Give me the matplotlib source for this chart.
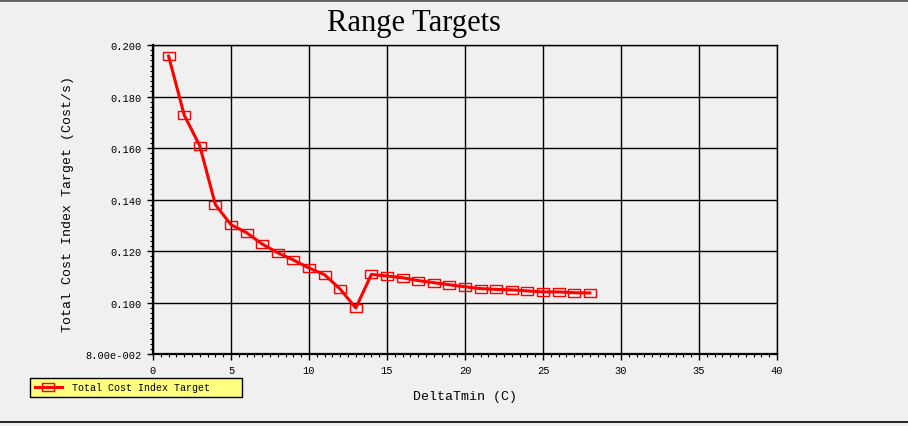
import numpy as np
import matplotlib.pyplot as plt
from matplotlib.lines import Line2D
from matplotlib.ticker import MultipleLocator, FixedLocator, FuncFormatter

# data
delta_tmin = [1, 2, 3, 4, 5, 6, 7, 8, 9, 10, 11, 12, 13, 14,
              15, 16, 17, 18, 19, 20, 21, 22, 23, 24, 25, 26, 27, 28]
cost_index = [0.1957, 0.1728, 0.1608, 0.1380, 0.1302, 0.1271, 0.1227, 0.1193,
              0.1165, 0.1134, 0.1108, 0.1052, 0.0979, 0.1109, 0.1103, 0.1096,
              0.1085, 0.1077, 0.1069, 0.1061, 0.1054, 0.1051, 0.1049, 0.1045,
              0.1041, 0.1041, 0.1038, 0.1037]
y_ticks = [0.08, 0.10, 0.12, 0.14, 0.16, 0.18, 0.20]
x_ticks = [0, 5, 10, 15, 20, 25, 30, 35, 40]

bg = '#f0f0f0'
mono = 'Liberation Mono'

W, H = 908, 427
fig = plt.figure(figsize=(W / 100, H / 100), dpi=100, facecolor=bg)
# axes box in pixels: left 153, right 777, top 46, bottom 355
ax = fig.add_axes([153 / W, 1 - 355 / H, (777 - 153) / W, (355 - 46) / H])
ax.set_facecolor(bg)

box = [(-1, -0.7), (1, -0.7), (1, 0.7), (-1, 0.7), (-1, -0.7)]
ax.plot(delta_tmin, cost_index, color='red', lw=2.2, marker=box,
        markersize=8, markerfacecolor='none', markeredgecolor='red',
        markeredgewidth=1.0, label='Total Cost Index Target', zorder=3)

ax.set_xlim(0, 40)
ax.set_ylim(0.08, 0.20)
ax.xaxis.set_major_locator(FixedLocator(x_ticks))
ax.xaxis.set_minor_locator(MultipleLocator(0.5))
ax.yaxis.set_major_locator(FixedLocator(y_ticks))
ax.yaxis.set_minor_locator(MultipleLocator(0.002))


def yfmt(v, pos):
    if abs(v - 0.08) < 1e-9:
        return '8.00e-002'
    return '%.3f' % v


ax.yaxis.set_major_formatter(FuncFormatter(yfmt))
ax.grid(True, which='major', color='black', lw=1.0)

for s in ['top', 'right']:
    ax.spines[s].set_linewidth(1.0)
for s in ['left', 'bottom']:
    ax.spines[s].set_linewidth(1.6)

ax.tick_params(which='major', direction='out', length=4, width=1,
               labelsize=7.5, pad=4)
ax.tick_params(which='minor', direction='out', length=2.5, width=0.8)
ax.tick_params(top=False, right=False, which='both')
for lab in ax.get_xticklabels() + ax.get_yticklabels():
    lab.set_family(mono)

ax.set_xlabel('DeltaTmin (C)', family=mono, fontsize=9.5)
ax.xaxis.set_label_coords(0.5, -0.115)
ax.set_ylabel('Total Cost Index Target (Cost/s)', family=mono, fontsize=9.5)
ax.yaxis.label.set_va('center')
ax.yaxis.set_label_coords((68 - 153) / 624, 0.49)

fig.text(413.5 / W, 1 - 31 / H, 'Range Targets', family='Liberation Serif',
         fontsize=22, ha='center', va='baseline')

leg = ax.legend(loc='center', bbox_to_anchor=(30 / W, 1 - 399 / H, 212 / W, 21 / H),
                bbox_transform=fig.transFigure, mode='expand',
                prop={'family': mono, 'size': 7.2}, fancybox=False,
                framealpha=1, facecolor='#ffff80', edgecolor='black',
                borderpad=0.45, handlelength=2.7, handletextpad=1.0,
                borderaxespad=0)
leg.get_frame().set_linewidth(1.0)

# window frame lines
fig.add_artist(Line2D([0, 1], [1 - 1 / H, 1 - 1 / H], transform=fig.transFigure,
                      color='#606060', lw=2))
fig.add_artist(Line2D([0, 1], [1 - 423 / H, 1 - 423 / H], transform=fig.transFigure,
                      color='black', lw=1.2))

fig.savefig('out.png', dpi=100, facecolor=bg)
